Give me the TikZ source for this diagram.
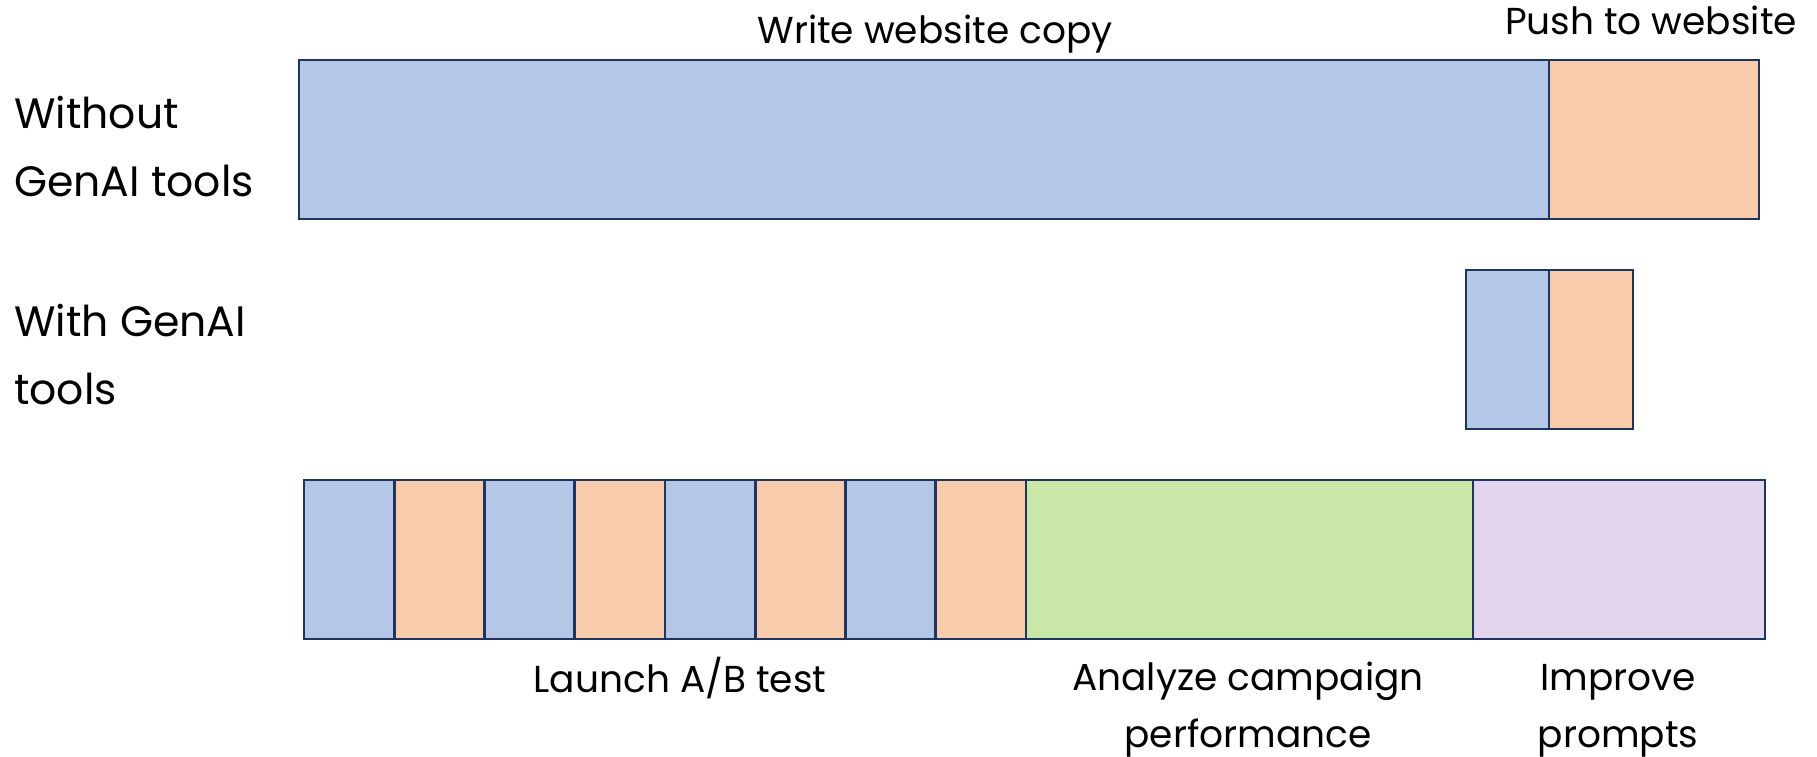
\documentclass[tikz,border=0pt]{standalone}
\usepackage{fontspec}
\setmainfont{Poppins}
\definecolor{bblue}{HTML}{B4C7E7}
\definecolor{borange}{HTML}{F8CBAD}
\definecolor{bgreen}{HTML}{C9E7A7}
\definecolor{bpurple}{HTML}{E2D5EC}
\definecolor{edge}{HTML}{1F3560}
\begin{document}
\begin{tikzpicture}[x=1pt,y=-1pt,
  seg/.style={draw=edge, line width=2.8pt, inner sep=0pt, outer sep=0pt, anchor=north west},
  lbl/.style={inner sep=0pt, anchor=base, align=center, font=\fontsize{37.5}{57}\selectfont},
  side/.style={inner sep=0pt, anchor=base west, align=left, font=\fontsize{42.5}{68}\selectfont}]
\useasboundingbox (0,0) rectangle (1817,757);
% Without GenAI
\node[seg, fill=bblue, minimum width=1250pt, minimum height=159pt] (w1) at (299,60) {};
\node[seg, fill=borange, minimum width=210pt, minimum height=159pt] (w2) at (1549,60) {};
% With GenAI small
\node[seg, fill=bblue, minimum width=83pt, minimum height=159pt] (g1) at (1466,270) {};
\node[seg, fill=borange, minimum width=84pt, minimum height=159pt] (g2) at (1549,270) {};
% Bottom row
\foreach \i/\c in {0/bblue,1/borange,2/bblue,3/borange,4/bblue,5/borange,6/bblue,7/borange}{
  \node[seg, fill=\c, minimum width=90.25pt, minimum height=159pt] (b\i) at ({304+90.25*\i},480) {};
}
\node[seg, fill=bgreen, minimum width=447pt, minimum height=159pt] (ana) at (1026,480) {};
\node[seg, fill=bpurple, minimum width=292pt, minimum height=159pt] (imp) at (1473,480) {};
% Labels
\node[lbl] (twrite) at (935,44) {Write website copy};
\node[lbl] (tpush) at (1651,35) {Push to website};
\node[side] (twithout) at (14,196) {Without\\GenAI tools};
\node[side] (twith) at (14,404) {With GenAI\\tools};
\node[lbl] (tlaunch) at (680,692) {Launch A/B test};
\node[lbl] (tana) at (1248,747) {Analyze campaign\\performance};
\node[lbl] (timp) at (1618,747) {Improve\\prompts};
\end{tikzpicture}
\end{document}
